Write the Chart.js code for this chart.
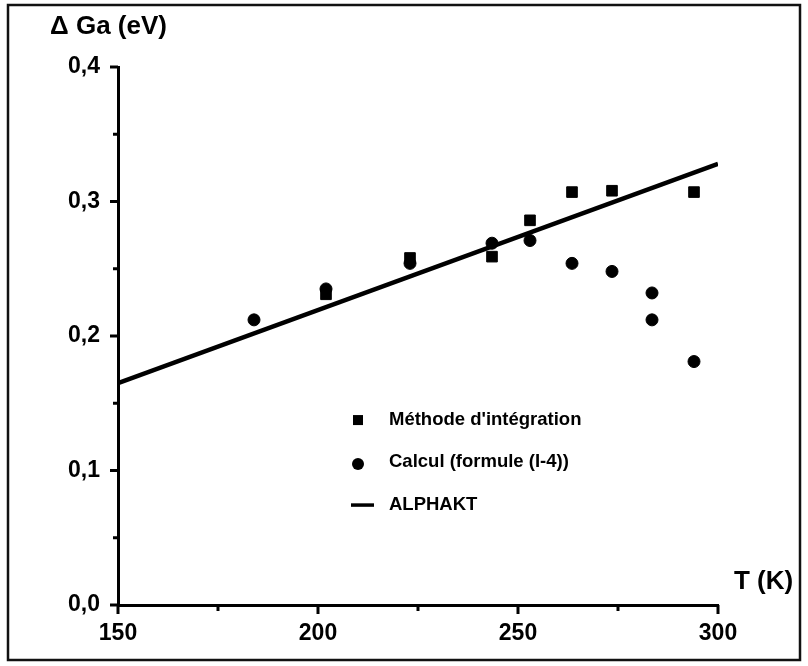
<!DOCTYPE html>
<html>
<head>
<meta charset="utf-8">
<script src="https://cdn.jsdelivr.net/npm/chart.js@4.4.0/dist/chart.umd.min.js"></script>
<style>
  html, body { margin: 0; padding: 0; background: #fff; }
  #wrap { width: 808px; height: 666px; position: relative; }
</style>
</head>
<body>
<div id="wrap"><canvas id="chart" width="808" height="666"></canvas></div>
<script>
// Data
const methodT  = [202, 223, 243.5, 253, 263.5, 273.5, 294];
const methodDG = [0.231, 0.258, 0.259, 0.286, 0.307, 0.308, 0.307];

const calcT  = [184, 202, 223, 243.5, 253, 263.5, 273.5, 283.5, 283.5, 294];
const calcDG = [0.212, 0.235, 0.254, 0.269, 0.271, 0.254, 0.248, 0.232, 0.212, 0.181];

const alphaT  = [150, 300];
const alphaDG = [0.165, 0.328];

const xMajor = [150, 200, 250, 300];
const xMinor = [175, 225, 275];
const yMajor = [0, 0.1, 0.2, 0.3, 0.4];
const yMinor = [0.05, 0.15, 0.25, 0.35];

const FONT = "'Liberation Sans', Arial, sans-serif";

function toPoints(xs, ys) {
    return xs.map((x, i) => ({x: x, y: ys[i]}));
}

// ticks, titles, legend and frame
const decorPlugin = {
    id: 'decor',
    beforeDraw(chart) {
        const ctx = chart.ctx;
        ctx.save();
        ctx.fillStyle = '#fff';
        ctx.fillRect(0, 0, chart.width, chart.height);
        ctx.strokeStyle = '#111';
        ctx.lineWidth = 2.5;
        ctx.strokeRect(8, 5, 792, 655);
        ctx.restore();
    },
    afterDraw(chart) {
        const ctx = chart.ctx;
        const xs = chart.scales.x, ys = chart.scales.y;
        const area = chart.chartArea;
        ctx.save();
        ctx.strokeStyle = '#000';
        ctx.lineWidth = 3;
        // y ticks (left of axis)
        yMajor.forEach(v => {
            const p = ys.getPixelForValue(v);
            ctx.beginPath(); ctx.moveTo(area.left - 8, p); ctx.lineTo(area.left, p); ctx.stroke();
        });
        yMinor.forEach(v => {
            const p = ys.getPixelForValue(v);
            ctx.beginPath(); ctx.moveTo(area.left - 5, p); ctx.lineTo(area.left, p); ctx.stroke();
        });
        // x ticks (below axis)
        xMajor.forEach(v => {
            const p = xs.getPixelForValue(v);
            ctx.beginPath(); ctx.moveTo(p, area.bottom); ctx.lineTo(p, area.bottom + 9); ctx.stroke();
        });
        xMinor.forEach(v => {
            const p = xs.getPixelForValue(v);
            ctx.beginPath(); ctx.moveTo(p, area.bottom); ctx.lineTo(p, area.bottom + 6); ctx.stroke();
        });

        // axis titles
        ctx.fillStyle = '#000';
        ctx.font = 'bold 26px ' + FONT;
        ctx.textBaseline = 'middle';
        ctx.textAlign = 'left';
        ctx.fillText('\u0394 Ga (eV)', area.left - 68, area.top - 40);
        ctx.fillText('T (K)', area.right + 16, area.bottom - 23);

        // legend
        const lx = xs.getPixelForValue(210);
        const tx = lx + 31;
        const rows = [0.1375, 0.1063, 0.0743];
        ctx.font = 'bold 18.5px ' + FONT;
        const ds = chart.data.datasets;
        rows.forEach((v, i) => {
            const py = ys.getPixelForValue(v);
            if (i === 0) {
                ctx.fillRect(lx - 5, py - 5, 10, 10);
            } else if (i === 1) {
                ctx.beginPath(); ctx.arc(lx, py + 2, 6, 0, Math.PI * 2); ctx.fill();
            } else {
                ctx.lineWidth = 3.5;
                ctx.beginPath(); ctx.moveTo(lx - 7, py); ctx.lineTo(lx + 16, py); ctx.stroke();
            }
            ctx.fillText(ds[i].label, tx, py);
        });
        ctx.restore();
    }
};

const ctx = document.getElementById('chart').getContext('2d');
new Chart(ctx, {
    type: 'scatter',
    data: {
        datasets: [
            {
                label: "M\u00e9thode d'int\u00e9gration",
                data: toPoints(methodT, methodDG),
                pointStyle: 'rect',
                pointRadius: 7.5,
                backgroundColor: '#000',
                borderColor: '#000',
                borderWidth: 1,
                order: 2
            },
            {
                label: 'Calcul (formule (I-4))',
                data: toPoints(calcT, calcDG),
                pointStyle: 'circle',
                pointRadius: 6,
                backgroundColor: '#000',
                borderColor: '#000',
                borderWidth: 1,
                order: 3
            },
            {
                label: 'ALPHAKT',
                type: 'line',
                data: toPoints(alphaT, alphaDG),
                borderColor: '#000',
                borderWidth: 4.5,
                pointRadius: 0,
                fill: false,
                order: 1
            }
        ]
    },
    options: {
        responsive: false,
        animation: false,
        layout: { padding: { left: 0, top: 67, right: 90, bottom: 0 } },
        plugins: {
            legend: { display: false },
            tooltip: { enabled: false }
        },
        scales: {
            x: {
                type: 'linear',
                min: 150, max: 300,
                afterFit: s => { s.height = 61; },
                afterBuildTicks: s => { s.ticks = xMajor.map(v => ({value: v})); },
                border: { color: '#000', width: 3 },
                grid: { display: false, drawTicks: false },
                ticks: {
                    color: '#000',
                    padding: 15,
                    font: { family: FONT, size: 23, weight: 'bold' }
                }
            },
            y: {
                type: 'linear',
                min: 0, max: 0.4,
                afterFit: s => { s.width = 118; },
                afterBuildTicks: s => { s.ticks = yMajor.map(v => ({value: v})); },
                border: { color: '#000', width: 3 },
                grid: { display: false, drawTicks: false },
                ticks: {
                    color: '#000',
                    padding: 18,
                    font: { family: FONT, size: 23, weight: 'bold' },
                    callback: v => v.toFixed(1).replace('.', ',')
                }
            }
        }
    },
    plugins: [decorPlugin]
});
</script>
</body>
</html>
